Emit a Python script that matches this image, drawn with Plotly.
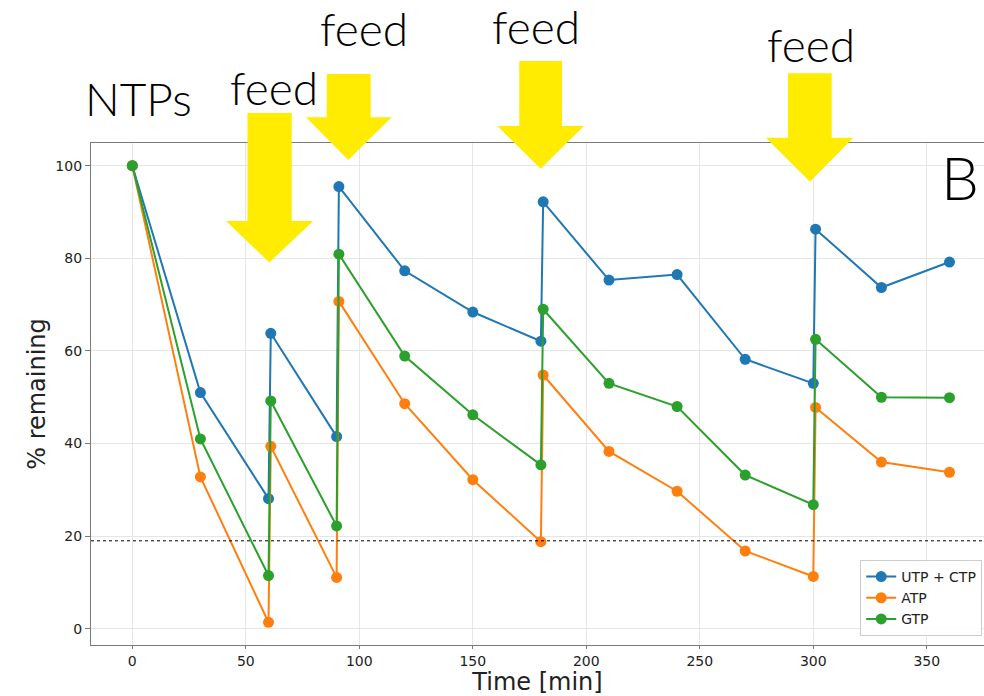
import plotly.graph_objects as go

# Sampling times (min); each feed gives a pre- and post-feed reading
time_min = [0, 30, 60, 61, 90, 91, 120, 150, 180, 181, 210, 240, 270, 300, 301, 330, 360]

utp_ctp = [100, 51.0, 28.1, 63.8, 41.5, 95.5, 77.3, 68.4, 62.1, 92.2, 75.3, 76.5, 58.2, 53.0, 86.3, 73.7, 79.2]
atp = [100, 32.8, 1.4, 39.4, 11.1, 70.7, 48.6, 32.2, 18.8, 54.8, 38.3, 29.7, 16.8, 11.3, 47.8, 36.0, 33.8]
gtp = [100, 41.0, 11.5, 49.2, 22.2, 80.9, 58.9, 46.2, 35.4, 69.0, 53.0, 48.0, 33.2, 26.8, 62.5, 50.0, 49.9]

series_names = ["UTP + CTP", "ATP", "GTP"]
series_colors = ["#1f77b4", "#ff7f0e", "#2ca02c"]

x_ticks = [0, 50, 100, 150, 200, 250, 300, 350]
y_ticks = [0, 20, 40, 60, 80, 100]
threshold = 19

# page geometry of the plotting area (px)
W, H = 984, 696
L, R, T, B = 91, 984, 143, 645


def px(x):
    return (x - L) / (R - L)


def py(y):
    return (B - y) / (B - T)


fig = go.Figure()
for name, vals, col in zip(series_names, [utp_ctp, atp, gtp], series_colors):
    fig.add_trace(go.Scatter(
        x=time_min, y=vals, name=name, mode="lines+markers",
        line=dict(color=col, width=2),
        marker=dict(color=col, size=11),
    ))

shapes = [dict(type="line", xref="paper", yref="y", x0=0, x1=1, y0=threshold, y1=threshold,
               line=dict(color="black", width=1, dash="dot"), layer="above")]

# yellow "feed" arrows: shaft left/right, shaft top, head left/right, head top, tip x, tip y
arrows = [
    (247.5, 291.7, 113, 226, 313.3, 221, 269.3, 262.5),
    (326.7, 370.7, 74, 306, 391.7, 117.3, 348.3, 160),
    (519.3, 562, 61, 497.3, 584, 126, 540.7, 168.7),
    (788, 831.7, 73.3, 766, 853.3, 137.7, 810, 181.7),
]
for sl, sr, st, hl, hr, ht, tx, ty in arrows:
    pts = [(sl, st), (sr, st), (sr, ht), (hr, ht), (tx, ty), (hl, ht), (sl, ht)]
    path = "M " + " L ".join(f"{px(a):.5f},{py(b):.5f}" for a, b in pts) + " Z"
    shapes.append(dict(type="path", xref="paper", yref="paper", path=path,
                       fillcolor="#FFEC00", line=dict(width=0), layer="above"))

label_font = dict(family="Lato, 'Noto Sans', sans-serif", size=46, color="black", weight=300)
labels = [("NTPs", 138, 98), ("feed", 273.5, 87), ("feed", 364, 29), ("feed", 536, 27), ("feed", 811, 45)]
annotations = []
for txt, ax_, ay_ in labels:
    annotations.append(dict(text=txt, xref="paper", yref="paper", x=px(ax_), y=py(ay_),
                            xanchor="center", yanchor="middle", showarrow=False, font=label_font))
annotations.append(dict(text="B", xref="paper", yref="paper", x=px(960), y=py(177),
                        xanchor="center", yanchor="middle", showarrow=False,
                        font=dict(family="Lato, 'Noto Sans', sans-serif", size=60, color="black",
                                  weight=300)))

axis_font = dict(family="DejaVu Sans", size=14, color="#222")
fig.update_layout(
    width=W, height=H,
    margin=dict(l=L, r=W - R, t=T, b=H - B),
    paper_bgcolor="white", plot_bgcolor="white",
    font=dict(family="DejaVu Sans", color="#222"),
    shapes=shapes, annotations=annotations,
    legend=dict(x=0.998, y=0.018, xanchor="right", yanchor="bottom",
                bgcolor="rgba(255,255,255,0.85)", bordercolor="#cccccc", borderwidth=1,
                font=dict(family="DejaVu Sans", size=14, color="#222")),
    xaxis=dict(range=[-18.2, 375.2], tickvals=x_ticks, showgrid=True, gridcolor="#e6e6e6",
               gridwidth=1, zeroline=False, showline=True, mirror=True, linecolor="#7a7a7a",
               linewidth=1.3, ticks="outside", ticklen=3, tickcolor="#7a7a7a", tickfont=axis_font,
               title=dict(text="Time [min]", font=dict(family="DejaVu Sans", size=24, color="#222"),
                          standoff=0)),
    yaxis=dict(range=[-3.5, 104.9], tickvals=y_ticks, showgrid=True, gridcolor="#e6e6e6",
               gridwidth=1, zeroline=False, showline=True, mirror=False, linecolor="#7a7a7a",
               linewidth=1.3, ticks="outside", ticklen=5, tickcolor="#7a7a7a", tickfont=axis_font,
               title=dict(text="% remaining", font=dict(family="DejaVu Sans", size=24, color="#222"),
                          standoff=2)),
)

fig.write_html("out.html")
